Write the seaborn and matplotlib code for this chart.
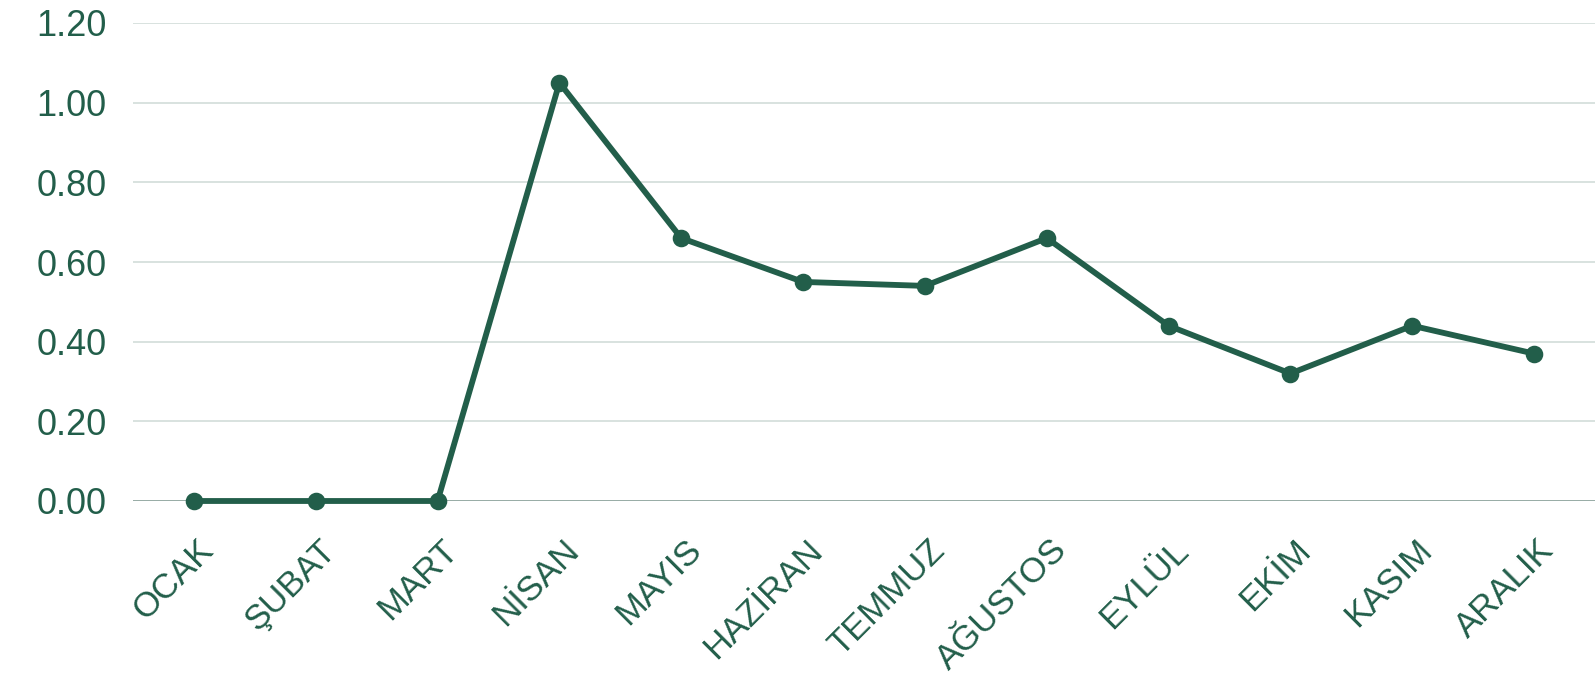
import pandas as pd
import seaborn as sns
from matplotlib import pyplot as plt
from matplotlib import transforms

# aylar ve değerler
aylar = ['OCAK', 'ŞUBAT', 'MART', 'NİSAN', 'MAYIS', 'HAZİRAN',
         'TEMMUZ', 'AĞUSTOS', 'EYLÜL', 'EKİM', 'KASIM', 'ARALIK']
degerler = [0.00, 0.00, 0.00, 1.05, 0.66, 0.55, 0.54, 0.66, 0.44, 0.32, 0.44, 0.37]
y_ticks = [0.0, 0.2, 0.4, 0.6, 0.8, 1.0, 1.2]

yesil = '#225e4a'

df = pd.DataFrame({'ay': aylar, 'deger': degerler})

sns.set_style('white')
plt.rcParams['font.family'] = ['Liberation Sans', 'DejaVu Sans']

fig = plt.figure(figsize=(15.95, 6.79), dpi=100)
ax = fig.add_axes([133 / 1595, 1 - 501 / 679, 1 - 133 / 1595, (501 - 23) / 679])

sns.pointplot(data=df, x='ay', y='deger', color=yesil, markers='o',
              errorbar=None, linewidth=4.2, markersize=9.5, ax=ax)
for coll in ax.collections:
    coll.set_clip_on(False)
for ln in ax.lines:
    ln.set_clip_on(False)

ax.set_xlim(-0.5, len(aylar) - 0.5)
ax.set_ylim(0, 1.2)
ax.set_yticks(y_ticks)
ax.set_yticklabels([f'{v:.2f}' for v in y_ticks])
ax.set_xlabel('')
ax.set_ylabel('')

ax.yaxis.grid(True, color='#d6dfdc', linewidth=1.3)
ax.xaxis.grid(False)
ax.set_axisbelow(True)
ax.get_ygridlines()[0].set_color('#8fa59e')

for s in ax.spines.values():
    s.set_visible(False)

ax.tick_params(axis='y', length=0, pad=19, labelsize=26, labelcolor=yesil)
ax.tick_params(axis='x', length=0, pad=6, labelsize=25, labelcolor=yesil)

# etiketleri 45 derece döndür
kaydir = transforms.ScaledTranslation(3 / 100, -24 / 100, fig.dpi_scale_trans)
for lbl in ax.get_xticklabels():
    lbl.set_rotation(45)
    lbl.set_ha('right')
    lbl.set_va('top')
    lbl.set_rotation_mode('anchor')
    lbl.set_transform(lbl.get_transform() + kaydir)

fig.savefig('out.png', dpi=100)
